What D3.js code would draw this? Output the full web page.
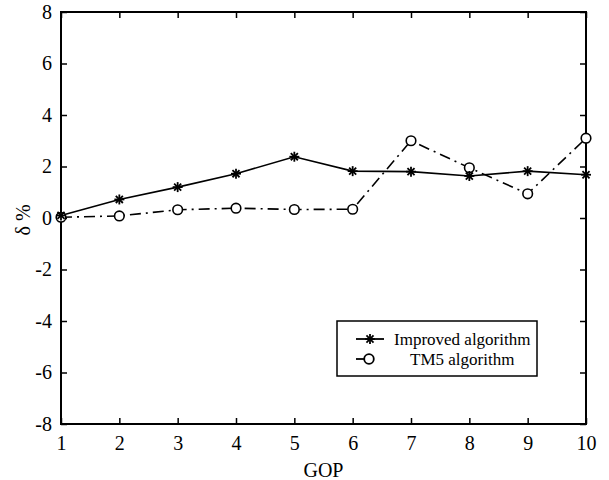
<!DOCTYPE html>
<html>
<head>
<meta charset="utf-8">
<script src="https://cdn.jsdelivr.net/npm/d3@7"></script>
<style>
  body { margin: 0; background: #fff; }
  text { font-family: "Liberation Serif", "Times New Roman", serif; fill: #000; }
</style>
</head>
<body>
<svg id="chart" width="609" height="480"></svg>
<script>
// data
var gop = [1, 2, 3, 4, 5, 6, 7, 8, 9, 10];
var improved = [0.1, 0.72, 1.2, 1.72, 2.38, 1.82, 1.8, 1.63, 1.82, 1.68];
var tm5 = [0.03, 0.08, 0.32, 0.38, 0.33, 0.34, 3.0, 1.95, 0.94, 3.1];
var yTicks = [-8, -6, -4, -2, 0, 2, 4, 6, 8];
var seriesNames = ["Improved algorithm", "TM5 algorithm"];

var plotL = 61, plotR = 586, plotT = 12, plotB = 424;

var svg = d3.select("#chart");

var x = d3.scaleLinear().domain([1, 10]).range([plotL, plotR]);
var y = d3.scaleLinear().domain([-8, 8]).range([plotB, plotT]);

// inward ticks on all four sides
var tickLen = 6;
svg.append("g")
    .attr("transform", "translate(0," + plotB + ")")
    .call(d3.axisBottom(x).tickValues(gop).tickSize(-tickLen).tickPadding(12).tickFormat(function (d) { return String(d); }))
    .call(function (g) { g.select(".domain").remove(); });
svg.append("g")
    .attr("transform", "translate(0," + plotT + ")")
    .call(d3.axisTop(x).tickValues(gop).tickSize(-tickLen).tickFormat(""))
    .call(function (g) { g.select(".domain").remove(); });
svg.append("g")
    .attr("transform", "translate(" + plotL + ",0)")
    .call(d3.axisLeft(y).tickValues(yTicks).tickSize(-tickLen).tickPadding(9).tickFormat(function (d) { return String(d); }))
    .call(function (g) { g.select(".domain").remove(); });
svg.append("g")
    .attr("transform", "translate(" + plotR + ",0)")
    .call(d3.axisRight(y).tickValues(yTicks).tickSize(-tickLen).tickFormat(""))
    .call(function (g) { g.select(".domain").remove(); });

svg.selectAll(".tick line").attr("stroke", "#000").attr("stroke-width", 1.5);
svg.selectAll(".tick text").attr("font-size", "20px").attr("font-family", "Liberation Serif").attr("fill", "#000");

svg.append("rect")
    .attr("x", plotL).attr("y", plotT)
    .attr("width", plotR - plotL).attr("height", plotB - plotT)
    .attr("fill", "none").attr("stroke", "#000").attr("stroke-width", 2);

// axis titles
svg.append("text")
    .attr("x", (plotL + plotR) / 2).attr("y", 477)
    .attr("text-anchor", "middle").attr("font-size", "20px")
    .text("GOP");
svg.append("text")
    .attr("transform", "translate(30," + (y(0) + 2) + ") rotate(-90)")
    .attr("text-anchor", "middle").attr("font-size", "20px")
    .text("δ %");

var line = d3.line()
    .x(function (d, i) { return x(gop[i]); })
    .y(function (d) { return y(d); });

// TM5: dash-dot with open circles
svg.append("path")
    .datum(tm5)
    .attr("d", line)
    .attr("fill", "none").attr("stroke", "#000").attr("stroke-width", 1.6)
    .attr("stroke-dasharray", "11,5,2,5");

// Improved: solid with asterisks
svg.append("path")
    .datum(improved)
    .attr("d", line)
    .attr("fill", "none").attr("stroke", "#000").attr("stroke-width", 1.6);

function star(g, cx, cy, r) {
    var s = g.append("g").attr("transform", "translate(" + cx + "," + cy + ")");
    [0, 45, 90, 135].forEach(function (a) {
        var rad = a * Math.PI / 180;
        s.append("line")
            .attr("x1", -r * Math.cos(rad)).attr("y1", -r * Math.sin(rad))
            .attr("x2", r * Math.cos(rad)).attr("y2", r * Math.sin(rad))
            .attr("stroke", "#000").attr("stroke-width", 1.8);
    });
}

svg.selectAll(".tm5-pt")
    .data(tm5)
    .enter().append("circle")
    .attr("class", "tm5-pt")
    .attr("cx", function (d, i) { return x(gop[i]); })
    .attr("cy", function (d) { return y(d); })
    .attr("r", 4.8)
    .attr("fill", "#fff").attr("stroke", "#000").attr("stroke-width", 1.6);

var starG = svg.append("g");
improved.forEach(function (d, i) { star(starG, x(gop[i]), y(d), 5); });

// legend
var lg = svg.append("g");
lg.append("rect")
    .attr("x", 337).attr("y", 321).attr("width", 200).attr("height", 55)
    .attr("fill", "#fff").attr("stroke", "#000").attr("stroke-width", 1.5);
lg.append("line").attr("x1", 356).attr("x2", 384).attr("y1", 339).attr("y2", 339)
    .attr("stroke", "#000").attr("stroke-width", 1.8);
star(lg, 370, 339, 5);
lg.append("line").attr("x1", 356).attr("x2", 369).attr("y1", 359).attr("y2", 359)
    .attr("stroke", "#000").attr("stroke-width", 1.8);
lg.append("circle").attr("cx", 369).attr("cy", 359).attr("r", 4.8)
    .attr("fill", "#fff").attr("stroke", "#000").attr("stroke-width", 1.8);
lg.append("text").attr("x", 394).attr("y", 345).attr("font-size", "17px").text(seriesNames[0]);
lg.append("text").attr("x", 410).attr("y", 365).attr("font-size", "17px").text(seriesNames[1]);
</script>
</body>
</html>
